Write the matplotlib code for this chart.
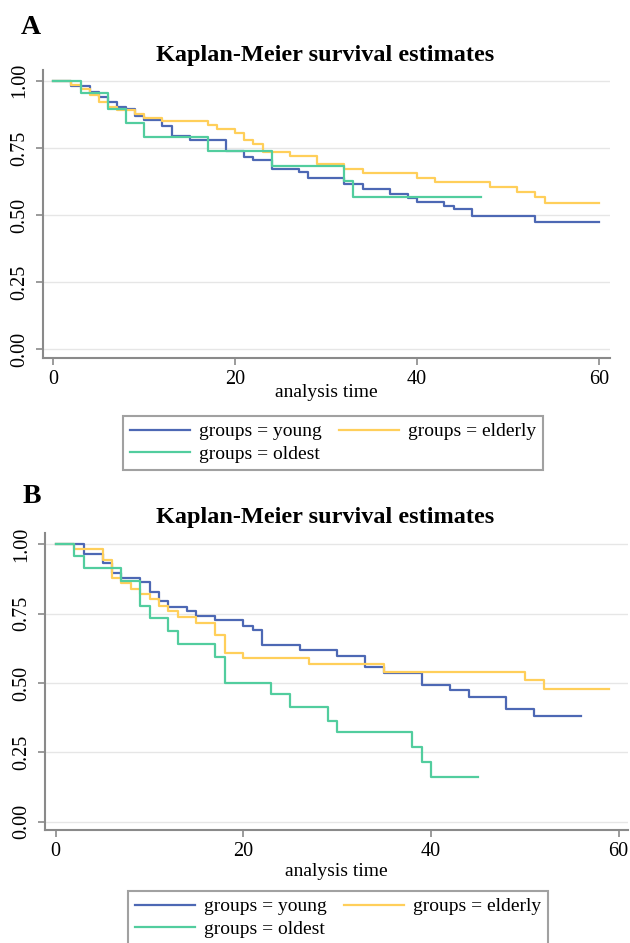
import numpy as np
import matplotlib
matplotlib.use("Agg")
import matplotlib.pyplot as plt
from matplotlib.lines import Line2D

plt.rcParams['font.family'] = ['Liberation Serif', 'DejaVu Serif']

# panel A: Kaplan-Meier steps (time, survival), last point = end of follow-up
a_young_t = [0, 2, 4, 5, 6, 7, 8, 9, 10, 12, 13, 15, 19, 21, 22, 24, 27, 28, 32, 34, 37, 39, 40, 43, 44, 46, 53, 60]
a_young_s = [1.0, 0.981, 0.959, 0.940, 0.922, 0.903, 0.893, 0.870, 0.854, 0.833, 0.795, 0.779, 0.740, 0.715, 0.705,
             0.670, 0.661, 0.637, 0.615, 0.597, 0.578, 0.562, 0.549, 0.534, 0.521, 0.496, 0.474, 0.474]
a_elder_t = [0, 2, 3, 4, 5, 6, 7, 9, 10, 12, 17, 18, 20, 21, 22, 23, 26, 29, 32, 34, 40, 42, 48, 51, 53, 54, 60]
a_elder_s = [1.0, 0.985, 0.970, 0.948, 0.922, 0.903, 0.890, 0.877, 0.862, 0.850, 0.835, 0.822, 0.807, 0.779, 0.763,
             0.736, 0.720, 0.690, 0.671, 0.655, 0.638, 0.622, 0.603, 0.587, 0.568, 0.546, 0.546]
a_old_t = [0, 3, 6, 8, 10, 17, 24, 32, 33, 47]
a_old_s = [1.0, 0.953, 0.895, 0.843, 0.790, 0.740, 0.684, 0.627, 0.568, 0.568]

# panel B
b_young_t = [0, 3, 5, 6, 7, 9, 10, 11, 12, 14, 15, 17, 20, 21, 22, 26, 30, 33, 35, 39, 42, 44, 48, 51, 56]
b_young_s = [1.0, 0.965, 0.932, 0.896, 0.880, 0.863, 0.830, 0.796, 0.775, 0.761, 0.743, 0.727, 0.707, 0.691, 0.637,
             0.619, 0.598, 0.559, 0.535, 0.493, 0.475, 0.451, 0.405, 0.381, 0.381]
b_elder_t = [0, 2, 5, 6, 7, 8, 9, 10, 11, 12, 13, 15, 17, 18, 20, 27, 35, 50, 52, 59]
b_elder_s = [1.0, 0.983, 0.944, 0.880, 0.862, 0.838, 0.821, 0.803, 0.778, 0.760, 0.739, 0.715, 0.673, 0.610, 0.591,
             0.568, 0.541, 0.511, 0.480, 0.480]
b_old_t = [0, 2, 3, 7, 9, 10, 12, 13, 17, 18, 23, 25, 29, 30, 38, 39, 40, 45]
b_old_s = [1.0, 0.959, 0.914, 0.869, 0.778, 0.736, 0.689, 0.641, 0.595, 0.499, 0.459, 0.413, 0.364, 0.322, 0.270,
           0.216, 0.162, 0.162]

labels = ['groups = young', 'groups = elderly', 'groups = oldest']
c_young, c_elder, c_old = '#4d68b4', '#ffcf5a', '#52cd9e'
gray = '#8a8a8a'
xticks = [0, 20, 40, 60]
yticks = [0, 0.25, 0.5, 0.75, 1.0]

W, H = 630, 943
fig = plt.figure(figsize=(W / 100, H / 100), dpi=100)


def km_panel(rect, curves, xlim, ylim, letter, letter_xy, title_y, xlabel_pad):
    ax = fig.add_axes(rect)
    for t, s, c in curves:
        ax.step(t, s, where='post', color=c, lw=1.6)
    ax.set_xlim(*xlim)
    ax.set_ylim(*ylim)
    ax.set_xticks(xticks)
    ax.set_yticks(yticks)
    ax.set_yticklabels(['0.00', '0.25', '0.50', '0.75', '1.00'], rotation=90, va='center')
    ax.grid(axis='y', color='#e6e6e6', lw=1)
    ax.set_axisbelow(True)
    for side in ['top', 'right']:
        ax.spines[side].set_visible(False)
    for side in ['left', 'bottom']:
        ax.spines[side].set_color(gray)
        ax.spines[side].set_linewidth(1.5)
    ax.tick_params(axis='both', colors=gray, labelcolor='black', labelsize=14.5, length=5, width=1.2)
    ax.tick_params(axis='y', pad=5)
    ax.tick_params(axis='x', pad=4)
    ax.set_xlabel('analysis time', fontsize=14, labelpad=xlabel_pad)
    fig.text(letter_xy[0] / W, 1 - letter_xy[1] / H, letter, fontsize=20, fontweight='bold',
             ha='center', va='center')
    fig.text(325 / W, 1 - title_y / H, 'Kaplan-Meier survival estimates', fontsize=17.5,
             fontweight='bold', ha='center', va='center')
    return ax


km_panel([43 / W, 1 - 358 / H, 567 / W, 288 / H],
         [(a_young_t, a_young_s, c_young), (a_elder_t, a_elder_s, c_elder), (a_old_t, a_old_s, c_old)],
         (-1.13, 61.2), (-0.032, 1.04), 'A', (31, 27), 55, -4)
km_panel([45 / W, 1 - 830 / H, 583 / W, 296.7 / H],
         [(b_young_t, b_young_s, c_young), (b_elder_t, b_elder_s, c_elder), (b_old_t, b_old_s, c_old)],
         (-1.14, 61.0), (-0.03, 1.04), 'B', (32, 497), 518, 1)

handles = [Line2D([], [], color=c_young, lw=1.6), Line2D([], [], color=c_elder, lw=1.6),
           Line2D([], [], color=c_old, lw=1.6)]
# column order: young, oldest | elderly
order = [0, 2, 1]
for x0, y0 in [(123, 416), (128, 891)]:
    leg = fig.legend([handles[i] for i in order], [labels[i] for i in order], ncol=2,
                     loc='upper left', bbox_to_anchor=(x0 / W, 1 - y0 / H), fontsize=14,
                     frameon=True, fancybox=False, edgecolor=gray, handlelength=3.1,
                     handletextpad=0.45, columnspacing=0.9, labelspacing=0.25,
                     borderpad=0.35, borderaxespad=0)
    leg.get_frame().set_linewidth(1.5)

fig.savefig('out.png', dpi=100)
